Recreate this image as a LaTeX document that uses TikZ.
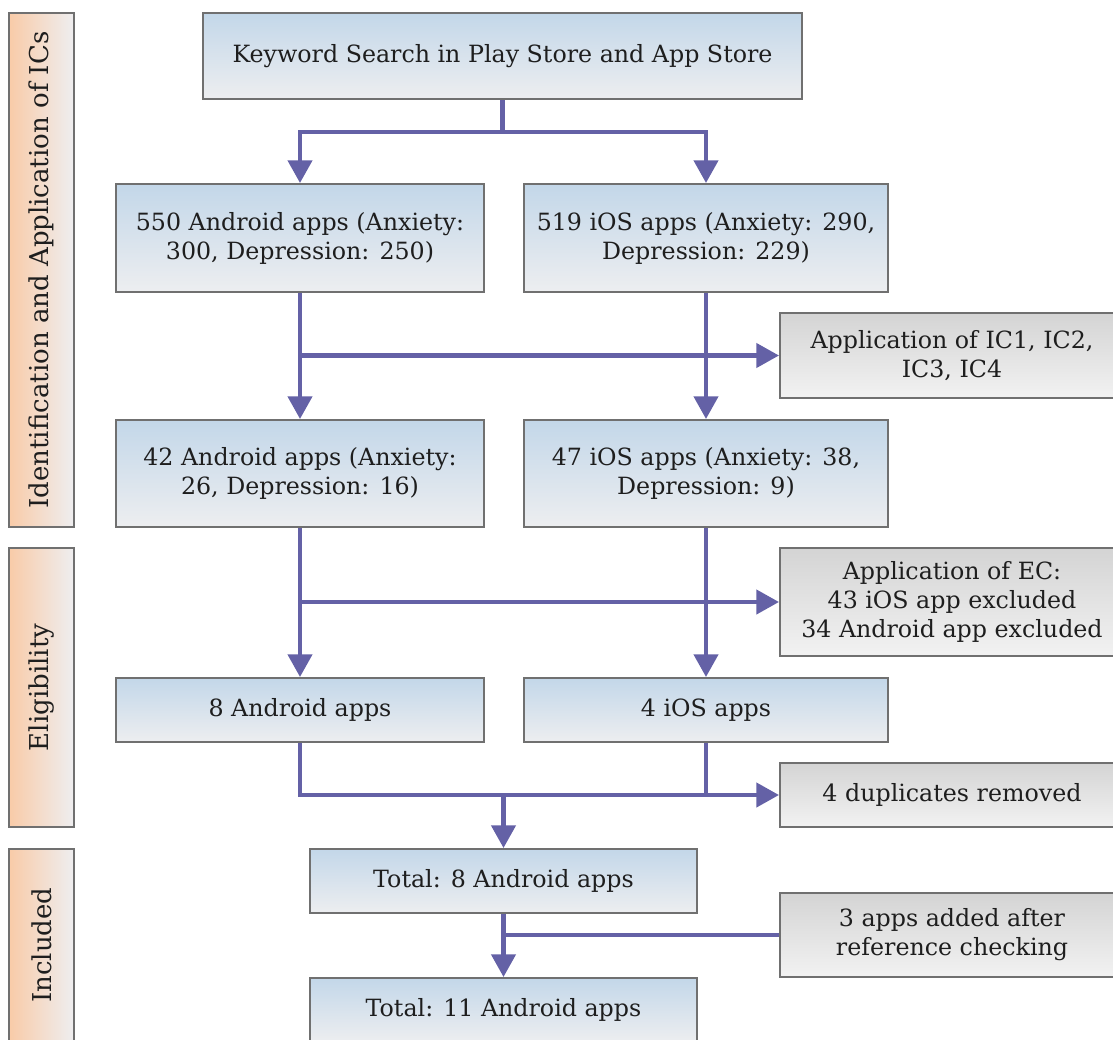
\documentclass[tikz,border=0pt]{standalone}
\usepackage{fontspec}
\setmainfont{DejaVu Serif}
\usetikzlibrary{arrows.meta,calc}
\definecolor{arrc}{RGB}{100,97,166}
\definecolor{bordc}{RGB}{112,112,112}
\definecolor{bluetop}{RGB}{195,215,233}
\definecolor{bluebot}{RGB}{237,238,240}
\definecolor{graytop}{RGB}{212,212,212}
\definecolor{graybot}{RGB}{242,242,242}
\definecolor{peach}{RGB}{249,203,168}
\definecolor{sidegray}{RGB}{238,238,240}
\definecolor{txt}{RGB}{30,30,30}
\tikzset{
  sz/.style 2 args={minimum width=#1*0.75pt, minimum height=#2*0.75pt},
  basebox/.style={draw=bordc, line width=1.5pt, inner sep=0pt, align=center,
    text=txt, font=\fontsize{17.8}{21.75}\selectfont},
  bluebox/.style={basebox, top color=bluetop, bottom color=bluebot},
  graybox/.style={basebox, top color=graytop, bottom color=graybot},
  sidebox/.style={basebox, left color=peach, right color=sidegray},
  sidetext/.style={rotate=90, text=txt, font=\fontsize{19.5}{22}\selectfont},
  conn/.style={draw=arrc, line width=3.2pt},
  arr/.style={conn, -{Triangle[width=18pt,length=17pt]}},
}
\begin{document}
\begin{tikzpicture}[x=0.75pt,y=-0.75pt]
\useasboundingbox (0,0) rectangle (1113,1039);
\clip (0,0) rectangle (1113,1039);
% side bars
\node[sidebox, sz={65}{514}] (s1) at (41.5,270) {};
\node[sidetext] (s1t) at (s1.center) {Identification and Application of ICs};
\node[sidebox, sz={65}{279}] (s2) at (41.5,687.5) {};
\node[sidetext] (s2t) at (s2.center) {Eligibility};
\node[sidebox, sz={65}{192}] (s3) at (41.5,945) {};
\node[sidetext] (s3t) at (s3.center) {Included};
% boxes
\node[bluebox, sz={599}{86}] (key) at (502.5,56) {Keyword Search in Play Store and App Store};
\node[bluebox, sz={368}{108}] (and1) at (300,238) {550 Android apps (Anxiety:\\300, Depression: 250)};
\node[bluebox, sz={364}{108}] (ios1) at (706,238) {519 iOS apps (Anxiety: 290,\\Depression: 229)};
\node[graybox, sz={344}{85}] (ic) at (952,355.5) {Application of IC1, IC2,\\IC3, IC4};
\node[bluebox, sz={368}{107}] (and2) at (300,473.5) {42 Android apps (Anxiety:\\26, Depression: 16)};
\node[bluebox, sz={364}{107}] (ios2) at (706,473.5) {47 iOS apps (Anxiety: 38,\\Depression: 9)};
\node[graybox, sz={344}{108}] (ec) at (952,602) {Application of EC:\\43 iOS app excluded\\34 Android app excluded};
\node[bluebox, sz={368}{64}] (and3) at (300,710) {8 Android apps};
\node[bluebox, sz={364}{64}] (ios3) at (706,710) {4 iOS apps};
\node[graybox, sz={344}{64}] (dup) at (952,795) {4 duplicates removed};
\node[bluebox, sz={387}{64}] (tot8) at (503.5,881) {Total: 8 Android apps};
\node[graybox, sz={344}{84}] (add) at (952,935) {3 apps added after\\reference checking};
\node[bluebox, sz={387}{64}] (tot11) at (503.5,1010) {Total: 11 Android apps};
% connectors
\draw[conn] (key.south) -- ++(0,32) coordinate (j1);
\draw[arr] (j1) -| (and1.north);
\draw[arr] (j1) -| (ios1.north);
\draw[arr] (and1.south) -- (and2.north);
\draw[arr] (ios1.south) -- (ios2.north);
\draw[arr] (and1.south |- ic.west) -- (ic.west);
\draw[arr] (and2.south) -- (and3.north);
\draw[arr] (ios2.south) -- (ios3.north);
\draw[arr] (and2.south |- ec.west) -- (ec.west);
\draw[arr] (and3.south) |- (dup.west);
\draw[conn] (ios3.south) -- (ios3.south |- dup.west);
\draw[arr] (tot8.north |- dup.west) -- (tot8.north);
\draw[arr] (tot8.south) -- (tot11.north);
\draw[conn] (add.west) -- (tot8.south |- add.west);
\end{tikzpicture}
\end{document}
